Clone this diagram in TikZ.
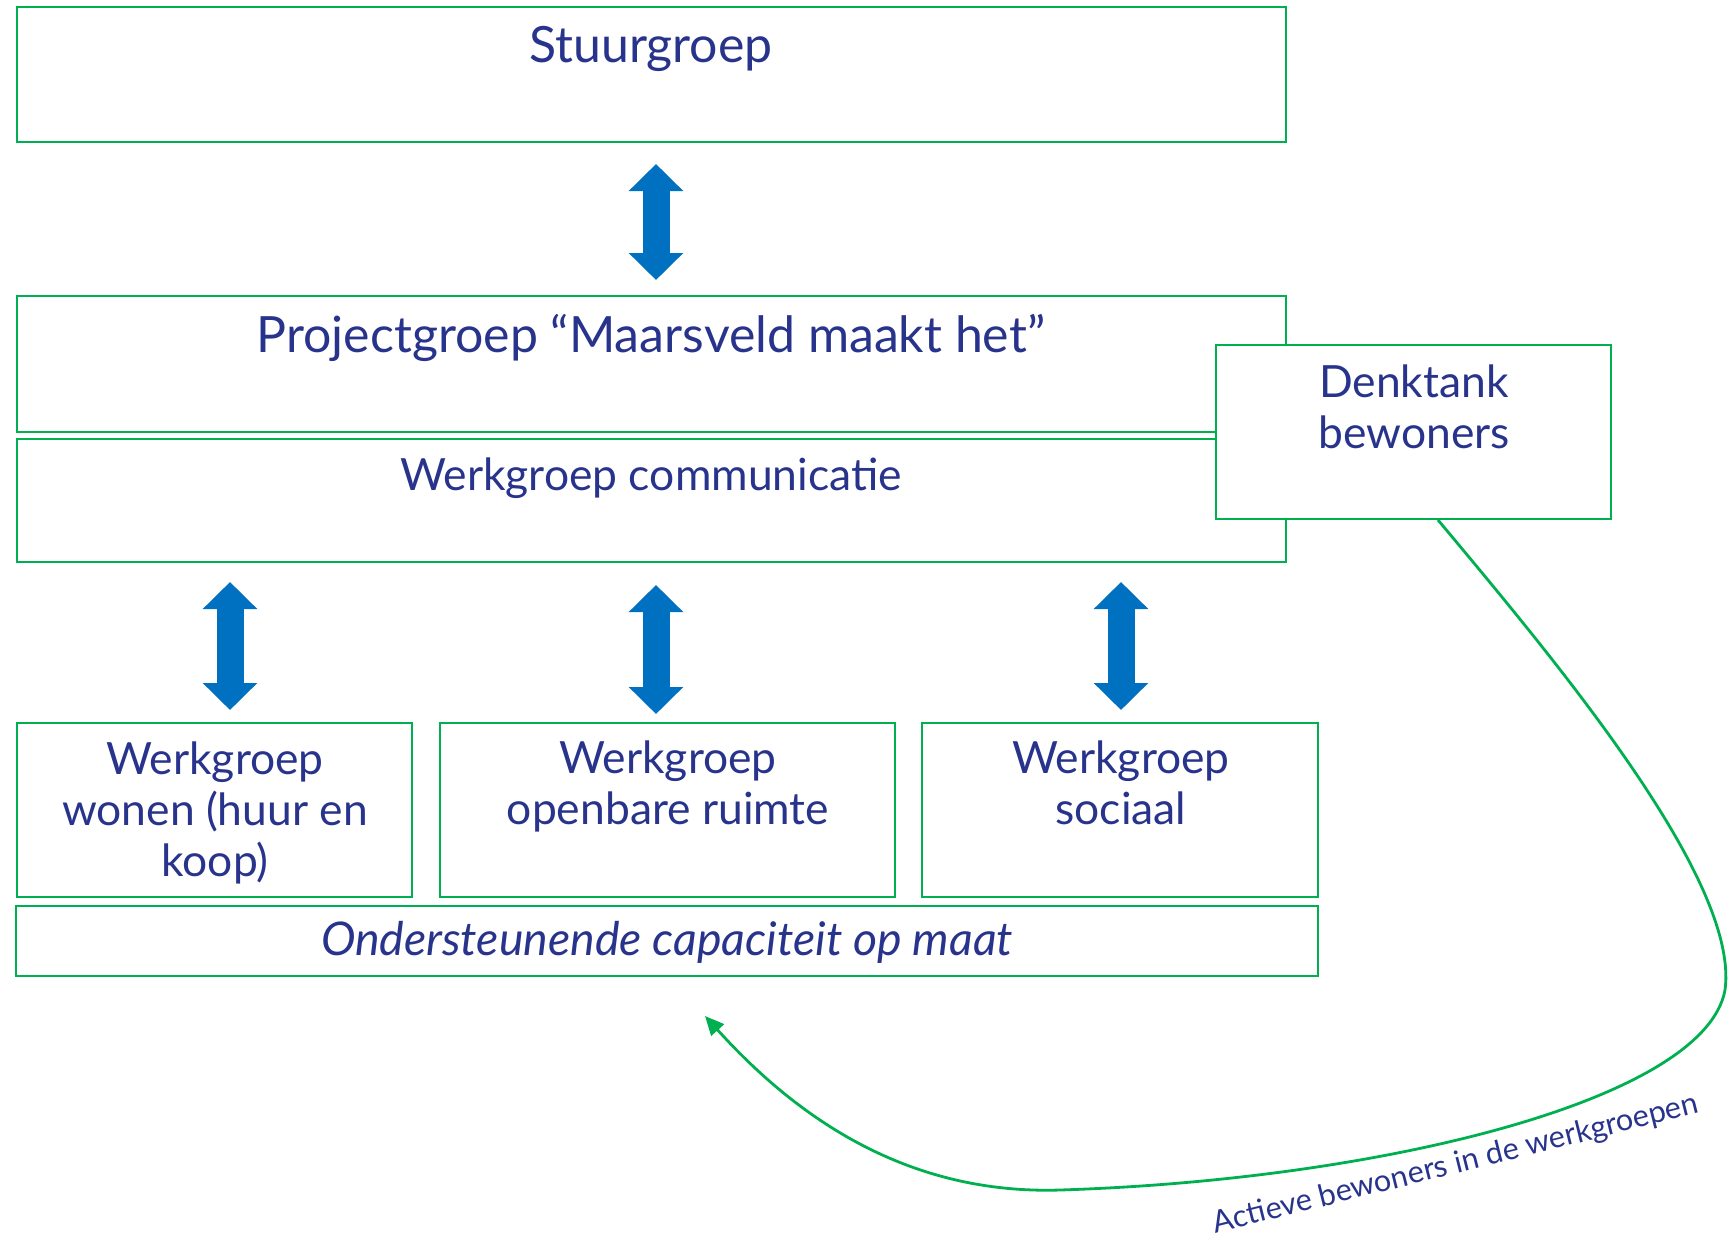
\documentclass[tikz,border=0pt]{standalone}
\usepackage{fontspec}
\setmainfont{Lato}
\usetikzlibrary{arrows.meta,fit}
\definecolor{boxgreen}{RGB}{0,176,80}
\definecolor{navy}{RGB}{40,52,140}
\definecolor{arrowblue}{RGB}{0,112,192}
\tikzset{
  box/.style={draw=boxgreen, line width=1pt, fill=white, inner sep=0pt},
  txt/.style={text=navy, font=\fontsize{22.2}{25.5}\selectfont, align=center, inner sep=0pt, anchor=base},
  bigtxt/.style={txt, font=\fontsize{25}{27}\selectfont},
  bigarrow/.style={draw=arrowblue, line width=13.5pt, {Triangle[width=26.5pt,length=13.5pt]}-{Triangle[width=26.5pt,length=13.5pt]}},
  flow/.style={draw=boxgreen, line width=1.4pt, -{Triangle[width=8.5pt,length=9.5pt]}},
}
\begin{document}
\begin{tikzpicture}[x=0.5pt,y=-0.5pt]
\useasboundingbox (0,0) rectangle (1728,1237);
% boxes
\node[box, fit={(16.5,6.6) (1286,142)}] (stuur) {};
\node[box, fit={(16.5,296) (1286,432)}] (proj) {};
\node[box, fit={(16.5,439) (1286,562)}] (comm) {};
\node[box, fit={(1215.5,345) (1611,519)}] (denk) {};
\node[box, fit={(16.5,723) (412,897)}] (wonen) {};
\node[box, fit={(440,723) (895,897)}] (openb) {};
\node[box, fit={(922,723) (1318,897)}] (sociaal) {};
\node[box, fit={(15.5,906) (1318,976)}] (onder) {};
% texts (anchor base = baseline of the last line)
\node[bigtxt] (tstuur) at (651,62) {Stuurgroep};
\node[bigtxt] (tproj) at (651,352) {Projectgroep “Maarsveld maakt het”};
\node[txt] (tcomm) at (651,490) {Werkgroep communicatie};
\node[txt] (tdenk) at (1414,448) {Denktank\\bewoners};
\node[txt] (twonen) at (215,876) {Werkgroep\\wonen (huur en\\koop)};
\node[txt] (topenb) at (668,824) {Werkgroep\\openbare ruimte};
\node[txt] (tsoc) at (1121,824) {Werkgroep\\sociaal};
\node[txt, font=\fontsize{23.2}{25}\selectfont\itshape] (tonder) at (667,955) {Ondersteunende capaciteit op maat};
% block arrows
\coordinate (a1t) at (656,164); \coordinate (a1b) at (656,280);
\coordinate (a2t) at (230,582); \coordinate (a2b) at (230,710);
\coordinate (a3t) at (656,585); \coordinate (a3b) at (656,714);
\coordinate (a4t) at (1121,582); \coordinate (a4b) at (1121,710);
\draw[bigarrow] (a1t) -- (a1b);
\draw[bigarrow] (a2t) -- (a2b);
\draw[bigarrow] (a3t) -- (a3b);
\draw[bigarrow] (a4t) -- (a4b);
% feedback curve
\coordinate (fend) at (705,1016);
\draw[flow] (denk.south -| 1438,0) .. controls (1555,660) and (1740,880) .. (1725,990)
  .. controls (1705,1100) and (1380,1180) .. (1060,1190)
  .. controls (900,1195) and (790,1110) .. (fend);
\node[text=navy, font=\fontsize{15.3}{17}\selectfont, inner sep=0pt, anchor=base, rotate=14] (lbl) at (1458,1173) {Actieve bewoners in de werkgroepen};
\end{tikzpicture}
\end{document}
